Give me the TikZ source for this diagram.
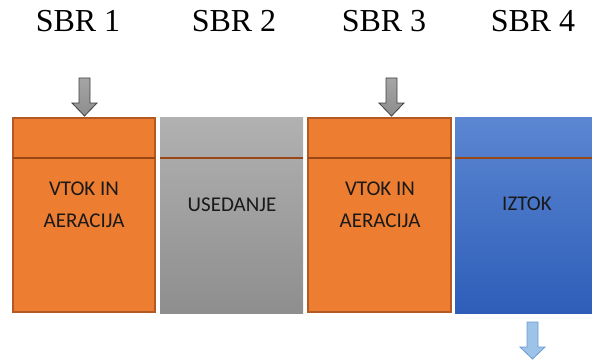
\documentclass[tikz,border=0pt]{standalone}
\usepackage{fontspec}
\setmainfont{Liberation Serif}
\newfontfamily\calib{Carlito}
\definecolor{orng}{HTML}{ED7D31}
\definecolor{orngdark}{HTML}{B35A24}
\definecolor{divline}{HTML}{9A4716}
\definecolor{graytop}{HTML}{B1B1B1}
\definecolor{graybot}{HTML}{8E8E8E}
\definecolor{bluetop}{HTML}{5B86D1}
\definecolor{bluebot}{HTML}{2E5EB9}
\definecolor{arrowblue}{HTML}{9DC3E6}
\definecolor{arrowblueline}{HTML}{6A9BD6}
\tikzset{
  title/.style={font=\fontsize{32}{36}\selectfont, anchor=base},
  lbl/.style={font=\calib\fontsize{21}{32}\selectfont, align=center, anchor=base, text=black!90},
}
\begin{document}
\begin{tikzpicture}[x=1pt,y=-1pt]
\useasboundingbox (0,0) rectangle (592,361);
% titles
\node[title] (t1) at (78,32) {SBR 1};
\node[title] (t2) at (234,32) {SBR 2};
\node[title] (t3) at (384,32) {SBR 3};
\node[title] (t4) at (533,32) {SBR 4};
% boxes
\fill[orng, draw=orngdark, line width=1.5pt] (13,118) rectangle (155,312);
\shade[top color=graytop, bottom color=graybot] (160,117) rectangle (303,313);
\fill[orng, draw=orngdark, line width=1.5pt] (308,118) rectangle (451,312);
\shade[top color=bluetop, bottom color=bluebot] (455,117) rectangle (592,313);
% divider lines
\draw[divline, line width=1.3pt] (13,158) -- (155,158);
\draw[divline, line width=1.3pt] (160,158) -- (303,158);
\draw[divline, line width=1.3pt] (308,158) -- (451,158);
\draw[divline, line width=1.3pt] (455,158) -- (592,158);
% labels
\node[lbl] (l1) at (84,195) {VTOK IN};
\node[lbl] (l1b) at (84,227) {AERACIJA};
\node[lbl] (l2) at (232,211) {USEDANJE};
\node[lbl] (l3) at (380,195) {VTOK IN};
\node[lbl] (l3b) at (380,227) {AERACIJA};
\node[lbl] (l4) at (527,210) {IZTOK};
% inflow arrows
\shade[top color=gray!70, bottom color=gray!110!black, draw=black!75, line width=0.8pt]
  (79,78) -- (90,78) -- (90,103) -- (97,103) -- (84.5,116) -- (72,103) -- (79,103) -- cycle;
\shade[top color=gray!70, bottom color=gray!110!black, draw=black!75, line width=0.8pt]
  (386,78) -- (397,78) -- (397,103) -- (404,103) -- (391.5,116) -- (379,103) -- (386,103) -- cycle;
% outflow arrow
\fill[arrowblue, draw=arrowblueline, line width=0.8pt]
  (527,322) -- (538,322) -- (538,347) -- (545,347) -- (532.5,359) -- (520,347) -- (527,347) -- cycle;
\end{tikzpicture}
\end{document}
